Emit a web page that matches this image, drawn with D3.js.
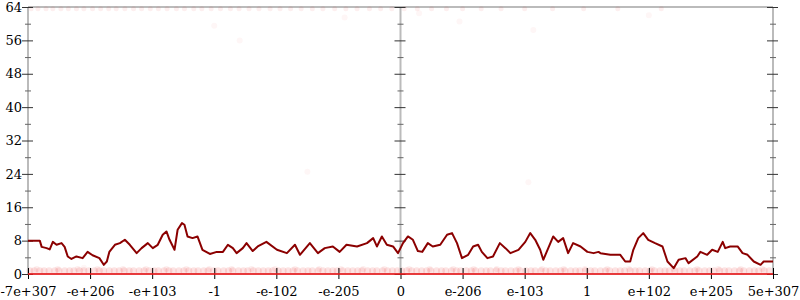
<!DOCTYPE html>
<html>
<head>
<meta charset="utf-8">
<script src="https://cdn.jsdelivr.net/npm/d3@7"></script>
<style>
  body { margin: 0; background: #fff; }
  text { font-family: "DejaVu Serif", serif; }
</style>
</head>
<body>
<div id="chart"></div>
<script>
var width = 800;
var height = 300;

// x positions are in tick units (-6 .. 6), one unit per labelled tick
var tickLabels = ["-7e+307", "-e+206", "-e+103", "-1", "-e-102", "-e-205", "0",
                  "e-206", "e-103", "1", "e+102", "e+205", "5e+307"];
var yMajor = [0, 8, 16, 24, 32, 40, 48, 56, 64];
var yMinor = [4, 12, 20, 28, 36, 44, 52, 60];

// running line
var linePos = [-6.0, -5.81, -5.78, -5.70, -5.65, -5.60, -5.54, -5.46, -5.41, -5.36,
  -5.30, -5.22, -5.12, -5.04, -4.96, -4.85, -4.78, -4.73, -4.69, -4.60,
  -4.52, -4.44, -4.36, -4.25, -4.17, -4.07, -3.99, -3.91, -3.83, -3.77,
  -3.72, -3.64, -3.59, -3.52, -3.48, -3.43, -3.35, -3.27, -3.23, -3.19,
  -3.07, -2.96, -2.86, -2.78, -2.70, -2.64, -2.54, -2.48, -2.38, -2.30,
  -2.16, -1.99, -1.83, -1.70, -1.62, -1.46, -1.33, -1.22, -1.09, -0.98,
  -0.87, -0.70, -0.54, -0.44, -0.38, -0.30, -0.22, -0.12, -0.04, 0.04,
  0.12, 0.20, 0.28, 0.35, 0.44, 0.52, 0.64, 0.75, 0.83, 0.91,
  0.99, 1.09, 1.17, 1.25, 1.31, 1.40, 1.49, 1.60, 1.69, 1.77,
  1.90, 2.01, 2.09, 2.17, 2.25, 2.30, 2.38, 2.46, 2.54, 2.62,
  2.70, 2.78, 2.90, 3.01, 3.11, 3.19, 3.22, 3.38, 3.54, 3.62,
  3.70, 3.75, 3.83, 3.91, 3.99, 4.10, 4.22, 4.30, 4.40, 4.48,
  4.59, 4.64, 4.78, 4.83, 4.94, 5.02, 5.11, 5.19, 5.23, 5.31,
  5.43, 5.51, 5.59, 5.69, 5.80, 5.85, 6.0];
var lineVal = [8, 8, 6.5, 6.2, 5.9, 7.7, 7, 7.4, 6.5, 4.2,
  3.6, 4.2, 3.8, 5.3, 4.5, 3.8, 2.2, 3, 5.3, 7,
  7.4, 8.2, 7, 5, 6.2, 7.4, 6.2, 7, 9.4, 10.2,
  8.2, 5.8, 10.6, 12.2, 11.8, 9, 8.6, 9, 7.4, 5.8,
  4.8, 5.3, 5.3, 7, 6.2, 5, 6.2, 7.4, 5.5, 6.6,
  7.7, 5.8, 5, 7, 4.6, 7.4, 5, 6.2, 6.6, 5.3,
  7, 6.6, 7.4, 8.6, 6.6, 9, 7, 6.6, 5, 7.4,
  9, 8.2, 5.5, 5.3, 7.4, 6.6, 7, 9.4, 9.8, 7.4,
  3.8, 4.6, 6.6, 7, 5.3, 3.8, 4.2, 7.4, 6.2, 5,
  5.8, 7.7, 9.8, 8.2, 5.8, 3.4, 6.2, 9, 7.7, 8.6,
  5, 7.4, 6.6, 5.3, 5, 5.3, 5, 4.6, 4.6, 3,
  3, 5.8, 8.6, 9.8, 8.2, 7.4, 6.6, 3, 1.4, 3.4,
  3.8, 2.6, 4.2, 5.3, 4.6, 5.8, 5.3, 7.7, 6.2, 6.6,
  6.6, 5, 4.6, 3, 2.2, 3, 3];

// faint sample points
var bottomDots = [-5.97, -5.9, -5.81, -5.74, -5.66, -5.57, -5.5, -5.41, -5.33, -5.26,
  -5.17, -5.1, -5.02, -4.93, -4.85, -4.78, -4.69, -4.61, -4.53, -4.45,
  -4.37, -4.3, -4.21, -4.13, -4.05, -3.97, -3.9, -3.81, -3.73, -3.66,
  -3.57, -3.49, -3.41, -3.33, -3.26, -3.17, -3.1, -3.01, -2.94, -2.85,
  -2.77, -2.7, -2.61, -2.53, -2.46, -2.37, -2.29, -2.21, -2.13, -2.06,
  -1.97, -1.89, -1.81, -1.73, -1.66, -1.57, -1.49, -1.42, -1.33, -1.25,
  -1.17, -1.09, -1.02, -0.93, -0.85, -0.77, -0.69, -0.62, -0.53, -0.45,
  -0.38, -0.29, -0.21, -0.13, -0.05, 0.02, 0.1, 0.18, 0.26, 0.34,
  0.42, 0.49, 0.58, 0.66, 0.73, 0.82, 0.9, 0.97, 1.06, 1.14,
  1.21, 1.3, 1.38, 1.45, 1.54, 1.62, 1.69, 1.78, 1.86, 1.93,
  2.02, 2.1, 2.17, 2.26, 2.34, 2.41, 2.5, 2.58, 2.65, 2.74,
  2.82, 2.89, 2.98, 3.06, 3.13, 3.22, 3.3, 3.37, 3.46, 3.54,
  3.61, 3.7, 3.78, 3.85, 3.94, 4.02, 4.09, 4.18, 4.26, 4.33,
  4.42, 4.5, 4.57, 4.66, 4.74, 4.81, 4.9, 4.98, 5.05, 5.14,
  5.22, 5.29, 5.38, 5.46, 5.53, 5.62, 5.7, 5.77, 5.86, 5.94];
var lowDots = [-5.86, -5.52, -5.2, -4.88, -4.47, -4.1, -3.77, -3.45, -3.08, -2.72,
  -2.4, -2.02, -1.7, -1.31, -0.96, -0.6, -0.26, 0.14, 0.47, 0.85,
  1.18, 1.55, 1.9, 2.28, 2.63, 2.97, 3.33, 3.68, 4.05, 4.4,
  4.78, 5.12, 5.48, 5.83];
var topDots = [-5.95, -5.84, -5.71, -5.6, -5.47, -5.35, -5.22, -5.1, -4.96, -4.83,
  -4.7, -4.58, -4.44, -4.3, -4.17, -4.03, -3.9, -3.76, -3.61, -3.48,
  -3.33, -3.2, -3.05, -2.9, -2.74, -2.6, -2.44, -2.28, -2.1, -1.94,
  -1.77, -1.6, -1.42, -1.25, -1.06, -0.88, -0.7, -0.5, -0.32, -0.14,
  0.06, 0.27, 0.5, 0.74, 1.0, 1.3, 1.62, 2.0, 2.45, 2.95, 3.5, 4.2];
var midDots = [[-2.59, 56], [2.14, 58.5], [-5.1, 1.5], [2.06, 22], [-1.5, 24.5],
  [0.95, 60.5], [4.0, 62], [-3.0, 59.5], [0.3, 62.5], [-0.9, 61.5]];

var margin = { left: 28, right: 27, top: 7, bottom: 26 };

var svg = d3.select("#chart")
  .append("svg")
  .attr("width", width)
  .attr("height", height);

var x = d3.scaleLinear()
  .domain([-6, 6])
  .range([margin.left, width - margin.right]);

var y = d3.scaleLinear()
  .domain([0, 64])
  .range([height - margin.bottom, margin.top]);

// top border
svg.append("line")
  .attr("x1", x(-6)).attr("x2", x(6))
  .attr("y1", y(64)).attr("y2", y(64))
  .attr("stroke", "#bbb")
  .attr("stroke-width", 2);

// dots
var dotG = svg.append("g").attr("fill", "#e31a1c").attr("fill-opacity", 0.07);
dotG.selectAll(".bot").data(bottomDots).enter()
  .append("circle").attr("cx", function(d){ return x(d); }).attr("cy", y(0.8)).attr("r", 3.5)
  .attr("fill-opacity", 0.12);
dotG.selectAll(".low").data(lowDots).enter()
  .append("circle").attr("cx", function(d){ return x(d); }).attr("cy", y(1.2)).attr("r", 3);
dotG.selectAll(".top").data(topDots).enter()
  .append("circle").attr("cx", function(d){ return x(d); }).attr("cy", y(63.6)).attr("r", 2.5);
dotG.selectAll(".mid").data(midDots).enter()
  .append("circle")
  .attr("cx", function(d){ return x(d[0]); })
  .attr("cy", function(d){ return y(d[1]); })
  .attr("r", 3)
  .attr("fill-opacity", 0.04);

// vertical axes: left (labelled), centre, right
function yAxisAt(pos, labelled) {
  var g = svg.append("g").attr("transform", "translate(" + x(pos) + ",0)");
  g.append("line")
    .attr("y1", y(0)).attr("y2", y(64))
    .attr("stroke", "#bbb").attr("stroke-width", 2);
  var major = g.append("g").call(d3.axisLeft(y).tickValues(yMajor).tickSize(6)
    .tickFormat(labelled ? d3.format("d") : ""));
  major.select(".domain").remove();
  major.selectAll(".tick line").attr("x1", 5).attr("stroke", "#333");
  major.selectAll(".tick text").attr("x", -6).attr("font-size", 13)
    .attr("font-family", "DejaVu Serif").attr("fill", "#000");
  var minor = g.append("g").call(d3.axisLeft(y).tickValues(yMinor).tickSize(3).tickFormat(""));
  minor.select(".domain").remove();
  minor.selectAll(".tick line").attr("x1", 3).attr("stroke", "#666");
}
yAxisAt(-6, true);
yAxisAt(0, false);
yAxisAt(6, false);

// x axis
var xAxis = svg.append("g")
  .attr("transform", "translate(0," + y(0) + ")")
  .call(d3.axisBottom(x)
    .tickValues(d3.range(-6, 7))
    .tickSize(5)
    .tickPadding(8)
    .tickFormat(function(d){ return tickLabels[d + 6]; }));
xAxis.select(".domain").remove();
xAxis.selectAll(".tick line").attr("y1", -6).attr("stroke", "#000");
xAxis.selectAll(".tick text").attr("font-size", 13)
  .attr("font-family", "DejaVu Serif").attr("fill", "#000");

svg.append("line")
  .attr("x1", x(-6)).attr("x2", x(6))
  .attr("y1", y(0)).attr("y2", y(0))
  .attr("stroke", "#e31a1c")
  .attr("stroke-opacity", 0.85)
  .attr("stroke-width", 2);

// running line
var line = d3.line()
  .x(function(d, i){ return x(linePos[i]); })
  .y(function(d){ return y(d); });

svg.append("path")
  .datum(lineVal)
  .attr("d", line)
  .attr("fill", "none")
  .attr("stroke", "#8b0000")
  .attr("stroke-width", 2)
  .attr("stroke-linejoin", "round");
</script>
</body>
</html>
